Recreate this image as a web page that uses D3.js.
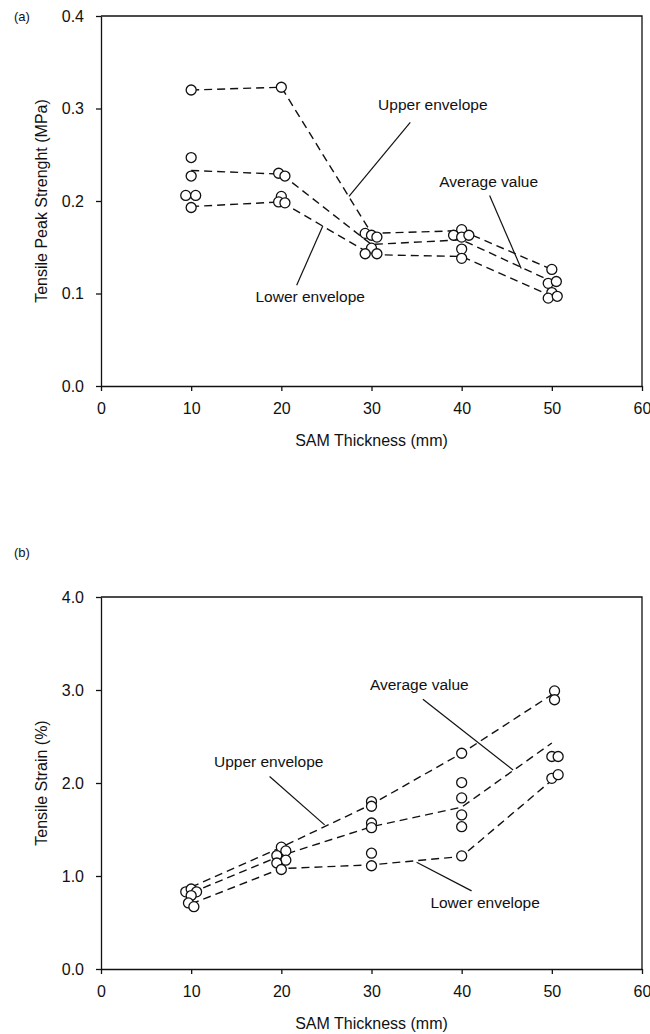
<!DOCTYPE html>
<html>
<head>
<meta charset="utf-8">
<script src="https://cdn.jsdelivr.net/npm/d3@7"></script>
<style>
  body { margin: 0; background: #fff; }
  svg { display: block; font-family: "Liberation Sans", Arial, sans-serif; }
  .axis path, .axis line { stroke: #111; stroke-width: 1.3; }
  .axis text { font-size: 16px; fill: #111; }
</style>
</head>
<body>
<svg width="650" height="1034"></svg>
<script>
// ---- data ----
var thickness = [10, 20, 30, 40, 50];
var xTicks = [0, 10, 20, 30, 40, 50, 60];

// (a) tensile peak strength, MPa
var strengthUpper = [0.320, 0.323, 0.165, 0.168, 0.126];
var strengthAvg   = [0.233, 0.229, 0.153, 0.158, 0.113];
var strengthLower = [0.194, 0.199, 0.142, 0.140, 0.097];
var strengthPtX = [10, 10, 10, 9.4, 10.5, 10,  20, 19.7, 20.4, 20, 19.7, 20.4,
                   29.3, 30, 30.6, 30, 29.3, 30.6,  40, 39.1, 40, 40.8, 40, 40,
                   50, 49.6, 50.5, 50, 49.6, 50.6];
var strengthPtY = [0.320, 0.247, 0.227, 0.206, 0.206, 0.193,  0.323, 0.230, 0.227, 0.205, 0.199, 0.198,
                   0.165, 0.163, 0.161, 0.149, 0.143, 0.143,  0.169, 0.163, 0.161, 0.163, 0.148, 0.138,
                   0.126, 0.111, 0.113, 0.101, 0.095, 0.097];
var strengthTicks = [0.0, 0.1, 0.2, 0.3, 0.4];

// (b) tensile strain, %
var strainUpper = [0.88, 1.31, 1.77, 2.32, 2.95];
var strainAvg   = [0.82, 1.22, 1.53, 1.74, 2.43];
var strainLower = [0.70, 1.08, 1.12, 1.21, 2.03];
var strainPtX = [9.4, 10, 10.6, 10, 9.7, 10.3,  20, 20.5, 19.5, 20.5, 19.5, 20,
                 30, 30, 30, 30, 30, 30,  40, 40, 40, 40, 40, 40,
                 50.3, 50.3, 50, 50.7, 50, 50.7];
var strainPtY = [0.83, 0.86, 0.83, 0.79, 0.71, 0.67,  1.31, 1.27, 1.22, 1.17, 1.14, 1.07,
                 1.80, 1.75, 1.57, 1.52, 1.245, 1.11,  2.32, 2.005, 1.84, 1.657, 1.53, 1.216,
                 2.99, 2.895, 2.285, 2.285, 2.05, 2.09];
var strainTicks = [0.0, 1.0, 2.0, 3.0, 4.0];

// annotations: [label, textX, textY, fromX, fromY, toX, toY] in data units
var strengthNotes = [
  ["Upper envelope", 36.8, 0.298, 34.3, 0.285, 27.5, 0.205],
  ["Average value", 43.0, 0.215, 43.1, 0.206, 46.6, 0.127],
  ["Lower envelope", 23.2, 0.091, 21.7, 0.109, 24.6, 0.173]
];
var strainNotes = [
  ["Upper envelope", 18.6, 2.177, 18.7, 2.07, 24.8, 1.55],
  ["Average value", 35.3, 3.00, 35.7, 2.90, 45.7, 2.14],
  ["Lower envelope", 42.6, 0.653, 35.0, 1.148, 41.1, 0.84]
];

var svg = d3.select("svg");

function panel(opt) {
  var left = 101, right = 642;
  var x = d3.scaleLinear().domain([0, 60]).range([left, right]);
  var y = d3.scaleLinear().domain([opt.yTicks[0], opt.yTicks[opt.yTicks.length - 1]]).range([opt.bottom, opt.top]);

  var g = svg.append("g");

  // frame top / right
  g.append("path")
    .attr("d", "M" + left + "," + opt.top + "H" + right + "V" + opt.bottom)
    .attr("fill", "none").attr("stroke", "#111").attr("stroke-width", 1.3);

  g.append("g").attr("class", "axis")
    .attr("transform", "translate(0," + opt.bottom + ")")
    .call(d3.axisBottom(x).tickValues(xTicks).tickFormat(d3.format("d"))
      .tickSize(5).tickSizeOuter(0).tickPadding(12));

  g.append("g").attr("class", "axis")
    .attr("transform", "translate(" + left + ",0)")
    .call(d3.axisLeft(y).tickValues(opt.yTicks).tickFormat(d3.format(".1f"))
      .tickSize(5).tickSizeOuter(0).tickPadding(12));

  g.selectAll(".axis .domain").attr("stroke-width", 1.3);

  // axis titles
  g.append("text")
    .attr("x", (left + right) / 2).attr("y", opt.bottom + 60)
    .attr("text-anchor", "middle").attr("font-size", 16).attr("fill", "#111")
    .text("SAM Thickness (mm)");
  g.append("text")
    .attr("transform", "translate(47," + (opt.top + opt.bottom) / 2 + ") rotate(-90)")
    .attr("text-anchor", "middle").attr("font-size", 16).attr("fill", "#111")
    .text(opt.yTitle);

  g.append("text")
    .attr("x", 14).attr("y", opt.top - 7 + opt.labelDy)
    .attr("font-size", 13).attr("fill", "#111")
    .text(opt.label);

  // dashed envelope lines
  var line = d3.line()
    .x(function(d) { return x(d[0]); })
    .y(function(d) { return y(d[1]); });
  opt.series.forEach(function(s) {
    g.append("path")
      .datum(d3.zip(thickness, s))
      .attr("d", line)
      .attr("fill", "none").attr("stroke", "#111")
      .attr("stroke-width", 1.4).attr("stroke-dasharray", "8,5");
  });

  // annotation pointers
  opt.notes.forEach(function(n) {
    g.append("line")
      .attr("x1", x(n[3])).attr("y1", y(n[4]))
      .attr("x2", x(n[5])).attr("y2", y(n[6]))
      .attr("stroke", "#111").attr("stroke-width", 1.2);
    g.append("text")
      .attr("x", x(n[1])).attr("y", y(n[2]))
      .attr("text-anchor", "middle").attr("font-size", 15.5).attr("fill", "#111")
      .text(n[0]);
  });

  // measured points
  g.selectAll("circle.pt")
    .data(d3.zip(opt.ptX, opt.ptY))
    .enter().append("circle")
    .attr("class", "pt")
    .attr("cx", function(d) { return x(d[0]); })
    .attr("cy", function(d) { return y(d[1]); })
    .attr("r", 5)
    .attr("fill", "#fff").attr("stroke", "#111").attr("stroke-width", 1.3);
}

panel({
  top: 16, bottom: 386, label: "(a)", labelDy: 12,
  yTicks: strengthTicks, yTitle: "Tensile Peak Strenght (MPa)",
  series: [strengthUpper, strengthAvg, strengthLower],
  ptX: strengthPtX, ptY: strengthPtY, notes: strengthNotes
});

panel({
  top: 597, bottom: 969, label: "(b)", labelDy: -33,
  yTicks: strainTicks, yTitle: "Tensile Strain (%)",
  series: [strainUpper, strainAvg, strainLower],
  ptX: strainPtX, ptY: strainPtY, notes: strainNotes
});
</script>
</body>
</html>
